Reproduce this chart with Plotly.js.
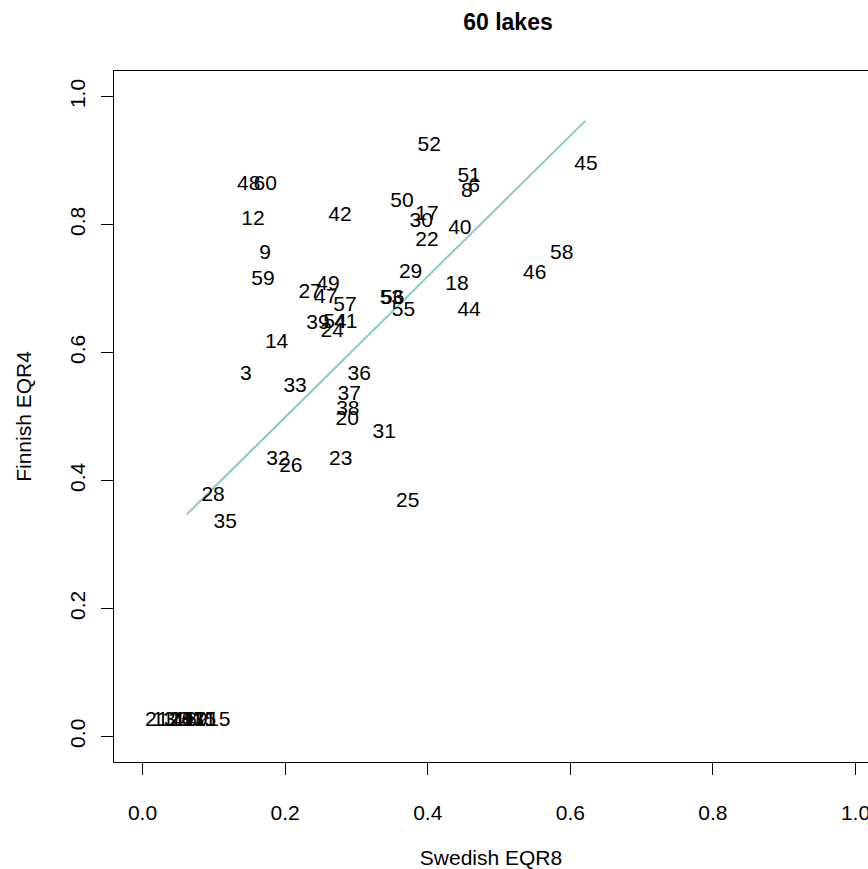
<!DOCTYPE html>
<html>
<head>
<meta charset="utf-8">
<script src="https://cdn.plot.ly/plotly-3.0.1.min.js"></script>
<style>html,body{margin:0;padding:0;background:#fff;}</style>
</head>
<body>
<div id="chart" style="width:868px;height:869px;"></div>
<script>
// Lake labels and their (Swedish EQR8, Finnish EQR4) values
const lakeLabels = [
  "45","52","51","6","8","48","60","12","42","9",
  "50","17","30","40","22","58","46","29","18","44",
  "55","59","27","49","47","57","53","56","39","54",
  "41","24","14","3","33","36","37","38","20","31",
  "32","26","23","28","35","25",
  "21","13","1","2","4","10","16","34","43","19","7","11","5","15"
];
const swedishEQR8 = [
  0.622,0.402,0.458,0.465,0.455,0.149,0.172,0.155,0.277,0.172,
  0.364,0.399,0.391,0.445,0.399,0.588,0.550,0.376,0.441,0.458,
  0.366,0.169,0.235,0.260,0.257,0.284,0.349,0.351,0.246,0.270,
  0.285,0.266,0.188,0.145,0.214,0.304,0.290,0.288,0.287,0.339,
  0.190,0.208,0.278,0.099,0.116,0.372,
  0.020,0.030,0.036,0.045,0.050,0.055,0.060,0.066,0.070,0.075,0.080,0.088,0.095,0.107
];
const finnishEQR4 = [
  0.894,0.923,0.874,0.859,0.852,0.863,0.863,0.807,0.813,0.755,
  0.835,0.816,0.805,0.794,0.774,0.755,0.723,0.724,0.706,0.666,
  0.666,0.714,0.694,0.706,0.685,0.673,0.684,0.684,0.645,0.646,
  0.647,0.633,0.616,0.565,0.546,0.565,0.534,0.511,0.495,0.474,
  0.433,0.422,0.433,0.376,0.334,0.366,
  0.025,0.025,0.025,0.025,0.025,0.025,0.025,0.025,0.025,0.025,0.025,0.025,0.025,0.025
];
// Fitted line end points
const fitX = [0.062, 0.621];
const fitY = [0.347, 0.962];

const tickVals = [0, 0.2, 0.4, 0.6, 0.8, 1.0];
const tickText = ["0.0", "0.2", "0.4", "0.6", "0.8", "1.0"];

const FONT = "Liberation Sans, Arial, Helvetica, sans-serif";

const traces = [
  {
    x: fitX, y: fitY, mode: "lines", type: "scatter",
    line: {color: "rgb(140,200,200)", width: 2},
    hoverinfo: "skip", showlegend: false
  },
  {
    x: swedishEQR8, y: finnishEQR4, text: lakeLabels,
    mode: "text", type: "scatter", textposition: "middle center",
    textfont: {family: FONT, size: 21, color: "#000"},
    showlegend: false
  }
];

const layout = {
  width: 868, height: 869,
  paper_bgcolor: "#fff", plot_bgcolor: "#fff",
  margin: {l: 114, r: 0, t: 71, b: 107, pad: 0},
  font: {family: FONT, size: 21, color: "#000"},
  title: {
    text: "<b>60 lakes</b>", font: {family: FONT, size: 23, color: "#000"},
    x: 0.5225, xref: "paper", xanchor: "center", y: 0.975, yref: "container", yanchor: "middle"
  },
  xaxis: {
    range: [-0.04, 1.0175], showgrid: false, zeroline: false,
    showline: true, linecolor: "#000", linewidth: 1, mirror: true,
    ticks: "outside", ticklen: 12, tickwidth: 1, tickcolor: "#000",
    tickvals: tickVals, ticktext: tickText, ticklabeloverflow: "allow",
    tickfont: {family: FONT, size: 21, color: "#000"},
    ticklabelstandoff: 20,
    title: {text: "Swedish EQR8", font: {family: FONT, size: 21, color: "#000"}, standoff: 32}
  },
  yaxis: {
    range: [-0.04, 1.04], showgrid: false, zeroline: false,
    showline: true, linecolor: "#000", linewidth: 1, mirror: false,
    ticks: "outside", ticklen: 12, tickwidth: 1, tickcolor: "#000",
    tickvals: tickVals, ticktext: tickText, tickangle: -90,
    tickfont: {family: FONT, size: 21, color: "#000"},
    ticklabelstandoff: 8,
    title: {text: "Finnish EQR4", font: {family: FONT, size: 21, color: "#000"}, standoff: 28}
  }
};

Plotly.newPlot("chart", traces, layout, {staticPlot: true, displayModeBar: false});
</script>
</body>
</html>
